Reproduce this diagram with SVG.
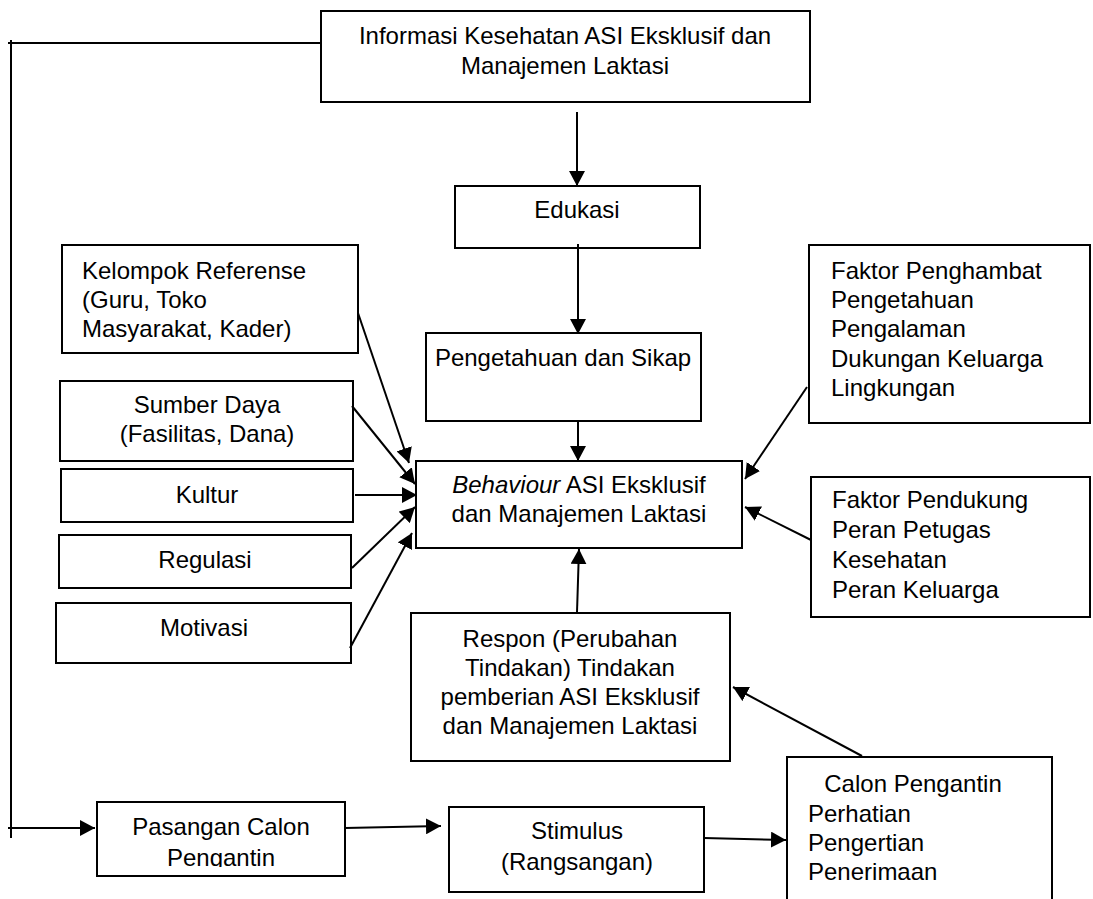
<svg xmlns="http://www.w3.org/2000/svg" width="1093" height="899" viewBox="0 0 1093 899">
<style>
.box{fill:#fff;stroke:#000;stroke-width:2}
.t{font-family:"Liberation Sans",Arial,sans-serif;font-size:24px;fill:#000}
.c{text-anchor:middle}
.ln{fill:none;stroke:#000;stroke-width:2}
</style>
<defs>
<marker id="ah" viewBox="0 0 10 10" refX="10" refY="5" markerWidth="15" markerHeight="16" markerUnits="userSpaceOnUse" orient="auto" preserveAspectRatio="none">
<path d="M0,0 L10,5 L0,10 z" fill="#000"/>
</marker>
<clipPath id="clipPas"><rect x="97" y="802" width="248" height="65"/></clipPath>
</defs>
<rect width="1093" height="899" fill="#fff"/>

<g id="info">
<rect class="box" x="321" y="11" width="489" height="91"/>
<text class="t c" x="565" y="44">Informasi Kesehatan ASI Eksklusif dan</text>
<text class="t c" x="565" y="74">Manajemen Laktasi</text>
</g>

<g id="edukasi">
<rect class="box" x="455" y="186" width="245" height="62"/>
<text class="t c" x="577" y="218">Edukasi</text>
</g>

<g id="pengetahuan">
<rect class="box" x="426" y="333" width="275" height="88"/>
<text class="t c" x="563" y="366">Pengetahuan dan Sikap</text>
</g>

<g id="kelompok">
<rect class="box" x="62" y="245" width="296" height="108"/>
<text class="t" x="82" y="279">Kelompok Referense</text>
<text class="t" x="82" y="308">(Guru, Toko</text>
<text class="t" x="82" y="337">Masyarakat, Kader)</text>
</g>

<g id="sumberdaya">
<rect class="box" x="60" y="381" width="293" height="80"/>
<text class="t c" x="207" y="413">Sumber Daya</text>
<text class="t c" x="207" y="442">(Fasilitas, Dana)</text>
</g>

<g id="kultur">
<rect class="box" x="61" y="469" width="292" height="53"/>
<text class="t c" x="207" y="503">Kultur</text>
</g>

<g id="regulasi">
<rect class="box" x="59" y="535" width="292" height="53"/>
<text class="t c" x="205" y="568">Regulasi</text>
</g>

<g id="motivasi">
<rect class="box" x="56" y="603" width="295" height="60"/>
<text class="t c" x="204" y="636">Motivasi</text>
</g>

<g id="behaviour">
<rect class="box" x="416" y="461" width="326" height="87"/>
<text class="t c" x="579" y="493"><tspan font-style="italic">Behaviour</tspan> ASI Eksklusif</text>
<text class="t c" x="579" y="522">dan Manajemen Laktasi</text>
</g>

<g id="penghambat">
<rect class="box" x="809" y="245" width="281" height="178"/>
<text class="t" x="831" y="279">Faktor Penghambat</text>
<text class="t" x="831" y="308">Pengetahuan</text>
<text class="t" x="831" y="337">Pengalaman</text>
<text class="t" x="831" y="367">Dukungan Keluarga</text>
<text class="t" x="831" y="396">Lingkungan</text>
</g>

<g id="pendukung">
<rect class="box" x="811" y="477" width="279" height="140"/>
<text class="t" x="832" y="508">Faktor Pendukung</text>
<text class="t" x="832" y="538">Peran Petugas</text>
<text class="t" x="832" y="568">Kesehatan</text>
<text class="t" x="832" y="598">Peran Keluarga</text>
</g>

<g id="respon">
<rect class="box" x="411" y="613" width="319" height="148"/>
<text class="t c" x="570" y="647">Respon (Perubahan</text>
<text class="t c" x="570" y="676">Tindakan) Tindakan</text>
<text class="t c" x="570" y="705">pemberian ASI Eksklusif</text>
<text class="t c" x="570" y="734">dan Manajemen Laktasi</text>
</g>

<g id="calon">
<rect class="box" x="787" y="757" width="265" height="150"/>
<text class="t c" x="913" y="792">Calon Pengantin</text>
<text class="t" x="808" y="822">Perhatian</text>
<text class="t" x="808" y="851">Pengertian</text>
<text class="t" x="808" y="880">Penerimaan</text>
</g>

<g id="pasangan">
<rect class="box" x="97" y="802" width="248" height="74"/>
<text class="t c" x="221" y="835">Pasangan Calon</text>
<text class="t c" x="221" y="866" clip-path="url(#clipPas)">Pengantin</text>
</g>

<g id="stimulus">
<rect class="box" x="449" y="807" width="255" height="85"/>
<text class="t c" x="577" y="839">Stimulus</text>
<text class="t c" x="577" y="870">(Rangsangan)</text>
</g>

<g id="connectors">
<polyline class="ln" points="321,43 8,43"/>
<polyline class="ln" points="11,40 11,838"/>
<line class="ln" x1="8" y1="828" x2="95" y2="828" marker-end="url(#ah)"/>
<line class="ln" x1="577" y1="112" x2="577" y2="186" marker-end="url(#ah)"/>
<line class="ln" x1="578" y1="244" x2="578" y2="334" marker-end="url(#ah)"/>
<line class="ln" x1="578" y1="421" x2="578" y2="461" marker-end="url(#ah)"/>
<line class="ln" x1="358" y1="313" x2="409" y2="463" marker-end="url(#ah)"/>
<line class="ln" x1="352" y1="406" x2="415" y2="484" marker-end="url(#ah)"/>
<line class="ln" x1="355" y1="495" x2="417" y2="495" marker-end="url(#ah)"/>
<line class="ln" x1="352" y1="568" x2="415" y2="507" marker-end="url(#ah)"/>
<line class="ln" x1="350" y1="648" x2="412" y2="533" marker-end="url(#ah)"/>
<line class="ln" x1="807" y1="387" x2="745" y2="479" marker-end="url(#ah)"/>
<line class="ln" x1="811" y1="540" x2="745" y2="507" marker-end="url(#ah)"/>
<line class="ln" x1="577" y1="612" x2="579" y2="549" marker-end="url(#ah)"/>
<line class="ln" x1="862" y1="756" x2="733" y2="687" marker-end="url(#ah)"/>
<line class="ln" x1="345" y1="828" x2="441" y2="826" marker-end="url(#ah)"/>
<line class="ln" x1="704" y1="838" x2="786" y2="840" marker-end="url(#ah)"/>
</g>
</svg>
